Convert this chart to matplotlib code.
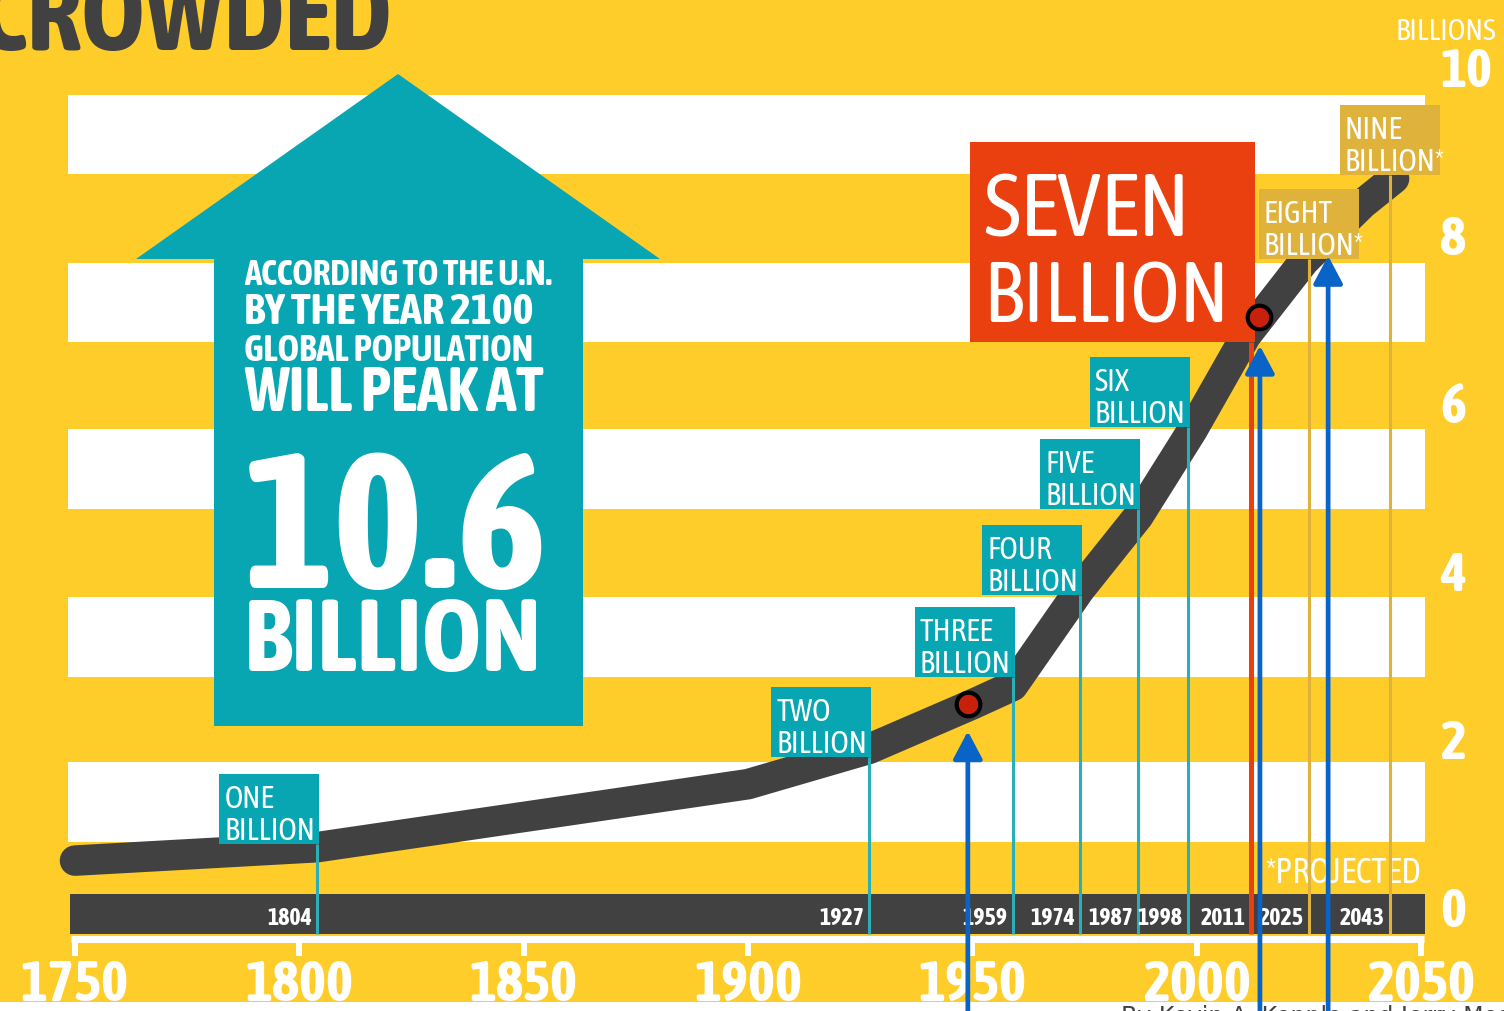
import numpy as np
import matplotlib.pyplot as plt
from matplotlib import transforms
from matplotlib import font_manager as fm
from matplotlib.patches import Rectangle, Polygon

W, H = 1504, 1012

# world population curve (billions)
curve_years = [1750, 1804, 1900, 1927, 1950, 1959, 1974, 1987, 1999, 2011, 2024, 2037, 2044]
curve_pop = [0.60, 0.76, 1.51, 1.93, 2.46, 2.68, 3.83, 4.70, 5.72, 6.85, 7.74, 8.42, 8.72]

# each billion milestone
milestone_years = [1804, 1927, 1959, 1974, 1987, 1998, 2011, 2025, 2043]
milestone_words = ["ONE", "TWO", "THREE", "FOUR", "FIVE", "SIX", "SEVEN", "EIGHT", "NINE"]
milestone_kind = ["past"] * 6 + ["now"] + ["projected"] * 2

# marked points and the arrows that point at them
dot_years = [1949.0, 2013.9]
dot_pop = [2.46, 7.07]
arrow_years = [1949.0, 2014.1, 2029.3]
arrow_tips = [2.14, 6.73, 7.80]

x_ticks = [1750, 1800, 1850, 1900, 1950, 2000, 2050]
y_ticks = [0, 2, 4, 6, 8, 10]

# colours
YELLOW = '#FECD29'
TEAL = '#07A6B2'
TEAL_LINE = '#2AAEB8'
DARK = '#414141'
RED = '#EA4010'
GOLD = '#DFB23C'
BLUE = '#0A64C8'


# look for a narrow face, the graphic uses a condensed type
def pick_condensed():
    fonts = fm.fontManager.ttflist
    for key in ('Condensed', 'Narrow', 'Compressed'):
        for f in fonts:
            if key in f.name:
                return f.name, 'normal'
    for f in fonts:
        if f.stretch not in ('normal', 'medium', 500) and 'Mono' not in f.name:
            return f.name, f.stretch
    return 'DejaVu Sans', 'normal'


COND, STRETCH = pick_condensed()
FONT = [COND, 'DejaVu Sans']

# pixel layout of the graphic
PPY = (1421 - 75) / 300.0   # px per year
PPB = 84.0                  # px per billion
X0 = 1750 - 75 / PPY
Y_TOP = 912 / PPB

fig = plt.figure(figsize=(W / 100, H / 100), dpi=100, facecolor=YELLOW)
ax = fig.add_axes([0, 0, 1, 1])
ax.set_xlim(X0, X0 + W / PPY)
ax.set_ylim(Y_TOP - H / PPB, Y_TOP)
ax.axis('off')
renderer = fig.canvas.get_renderer()

# pixel transform (origin top-left) for the decorative parts
PX = transforms.Affine2D().scale(1.0 / W, -1.0 / H).translate(0, 1) + fig.transFigure


def fit(t, width):
    bb = t.get_window_extent(renderer)
    t.set_fontsize(t.get_fontsize() * width / bb.width)
    return t


def txt(x, y, s, **kw):
    kw.setdefault('family', FONT)
    kw.setdefault('fontstretch', STRETCH)
    kw.setdefault('color', 'white')
    return ax.text(x, y, s, **kw)


def dx(p):
    return p / PPY


def dy(p):
    return p / PPB


# white stripes behind the chart
for b in [0.82, 2.79, 4.79, 6.77, 8.77]:
    ax.add_patch(Rectangle((X0 + dx(68), b), dx(1425 - 68), 0.95, color='white', lw=0, zorder=1))

# big arrow with the U.N. note
ax.add_patch(Polygon([(398, 75), (660, 260), (583, 260), (583, 727), (214, 727), (214, 260), (136, 260)],
                     closed=True, color=TEAL, lw=0, transform=PX, zorder=2))
arrow_lines = [("ACCORDING TO THE U.N.", 285, 307), ("BY THE YEAR 2100", 324, 288),
               ("GLOBAL POPULATION", 361, 289), ("WILL PEAK AT", 411, 298),
               ("10.6", 588, 304), ("BILLION", 671, 297)]
for s, base, w in arrow_lines:
    t = txt(244, base, s, transform=PX, fontweight='bold', fontsize=20, va='baseline', ha='left', zorder=3)
    fit(t, w)

# title, cut by the top edge
t = txt(-22, 50, "CROWDED", transform=PX, color=DARK, fontweight='bold', fontsize=60,
        va='baseline', ha='left', zorder=3)
fit(t, 414)

# dark year bar and the bracket axis under it
bar_lo, bar_hi = Y_TOP - dy(935), Y_TOP - dy(895)
ax.add_patch(Rectangle((X0 + dx(70), bar_lo), dx(1425 - 70), bar_hi - bar_lo, color=DARK, lw=0, zorder=2))
ax.plot([x_ticks[0] - dx(4), x_ticks[-1] + dx(3)], [Y_TOP - dy(939.5)] * 2, color='white', lw=5,
        solid_capstyle='butt', zorder=2)
ax.vlines(x_ticks, Y_TOP - dy(957), Y_TOP - dy(939), color='white', lw=4.3, zorder=2)
for x in x_ticks:
    t = txt(x, Y_TOP - dy(1001), str(x), fontweight='bold', fontsize=40, ha='center', va='baseline', zorder=3)
    fit(t, 108)

# right-hand scale
t = txt(X0 + dx(1496), Y_TOP - dy(40), "BILLIONS", fontsize=20, ha='right', va='baseline', zorder=3)
fit(t, 100)
for v in y_ticks:
    t = txt(X0 + dx(1440), v, str(v), fontweight='bold', fontsize=40, ha='left', va='center', zorder=3)
    fit(t, 26 * len(str(v)))

t = txt(X0 + dx(1421), Y_TOP - dy(883), "*PROJECTED", fontsize=20, ha='right', va='baseline', zorder=3)
fit(t, 155)

# population curve
ax.plot(curve_years, curve_pop, color=DARK, lw=22, solid_capstyle='round', solid_joinstyle='round', zorder=3)

# milestone flags and their lines
flag_tops = [775, 688, 608, 526, 440, 358, 143, 190, 106]
year_fs = None
flag_fs = None
for yr, word, kind, top in zip(milestone_years, milestone_words, milestone_kind, flag_tops):
    top_v = Y_TOP - dy(top)
    if kind == "now":
        right = yr + dx(9)
        left = right - dx(285)
        bottom = top_v - dy(200)
        ax.add_patch(Rectangle((left, bottom), right - left, top_v - bottom, color=RED, lw=0, zorder=5))
        ax.vlines(yr + dx(5), bar_lo, bottom, color=RED, lw=3.6, zorder=4)
        t1 = txt(left + dx(13), top_v - dy(94), word, fontsize=60, ha='left', va='baseline', zorder=6)
        fit(t1, 207)
        t2 = txt(left + dx(13), bottom + dy(20), "BILLION", fontsize=60, ha='left', va='baseline', zorder=6)
        fit(t2, 246)
    else:
        if kind == "past":
            box_c, line_c = TEAL, TEAL_LINE
            right = yr + dx(2)
        else:
            box_c, line_c = GOLD, GOLD
            right = yr + dx(50)
        left = right - dx(100)
        bottom = top_v - dy(70)
        ax.add_patch(Rectangle((left, bottom), right - left, top_v - bottom, color=box_c, lw=0, zorder=5))
        ax.vlines(yr, bar_lo, bottom, color=line_c, lw=2.2, zorder=4)
        second = "BILLION" if kind == "past" else "BILLION*"
        t2 = txt(left + dx(5), bottom + dy(5), second, fontsize=20, ha='left', va='baseline', zorder=6)
        if flag_fs is None:
            fit(t2, 91)
            flag_fs = t2.get_fontsize()
        else:
            t2.set_fontsize(flag_fs)
        txt(left + dx(5), bottom + dy(37), word, fontsize=flag_fs, ha='left', va='baseline', zorder=6)
    # year inside the dark bar
    xr = yr - dx(5) if kind != "now" else yr
    t = txt(xr, Y_TOP - dy(925), str(yr), fontweight='bold', fontsize=16, ha='right', va='baseline', zorder=4)
    if year_fs is None:
        fit(t, 45)
        year_fs = t.get_fontsize()
    else:
        t.set_fontsize(year_fs)

# marked points
ax.plot(dot_years, dot_pop, 'o', ms=17, mfc='#C8200A', mec='black', mew=3, zorder=7)

# blue pointer arrows coming from below the frame
for x, tip in zip(arrow_years, arrow_tips):
    ax.annotate('', xy=(x, tip), xytext=(x, Y_TOP - dy(1040)), annotation_clip=False,
                arrowprops=dict(arrowstyle='-|>,head_length=0.85,head_width=0.45', color=BLUE,
                                lw=3.4, mutation_scale=20, shrinkA=0, shrinkB=0), zorder=8)

# white strip and credit line at the bottom
ax.add_patch(Rectangle((0, 1003), W, 20, transform=PX, color='white', lw=0, zorder=7))
ax.text(1121, 1005, "By Kevin A. Kepple and Jerry Mosemak, USA TODAY", transform=PX, color=DARK,
        family='DejaVu Sans', fontsize=17, ha='left', va='top', zorder=7)

fig.savefig('out.png', dpi=100, facecolor=YELLOW)
